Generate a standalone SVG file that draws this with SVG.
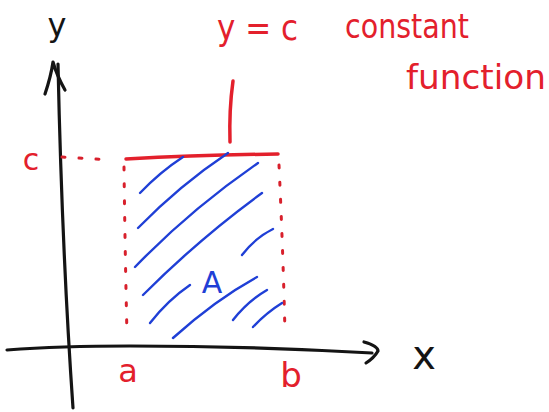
<svg xmlns="http://www.w3.org/2000/svg" width="549" height="412" viewBox="0 0 549 412">
<style>
.ink{fill:none;stroke:#141414;stroke-width:3.2;stroke-linecap:round;stroke-linejoin:round}
.red{fill:none;stroke:#e3202c;stroke-width:3.5;stroke-linecap:round}
.dot{fill:none;stroke:#d8202c;stroke-width:3;stroke-linecap:round;stroke-dasharray:3 14}
.hatch{fill:none;stroke:#1f3fd6;stroke-width:2.4;stroke-linecap:round}
.tr{fill:#e3202c;font-family:"DejaVu Sans","Liberation Sans",sans-serif}
.tk{fill:#141414;font-family:"DejaVu Sans","Liberation Sans",sans-serif}
.tb{fill:#1f3fd6;font-family:"DejaVu Sans","Liberation Sans",sans-serif}
</style>
<rect width="549" height="412" fill="#ffffff"/>
<g id="connectors">
  <g id="y-axis">
    <path class="ink" d="M73,408 Q62,250 58,64"/>
    <path class="ink" d="M45,94 Q51,76 53,62 Q57,76 65,90"/>
  </g>
  <g id="x-axis">
    <path class="ink" d="M7,350 Q60,346 130,346 Q250,346 372,353"/>
    <path class="ink" d="M364,342 Q378,346 378,351 Q374,358 366,363"/>
  </g>
  <g id="pointer">
    <path class="red" d="M233,81 Q229,110 230,142"/>
  </g>
</g>
<g id="function-line">
  <path class="red" d="M126,159 Q200,155 278,154"/>
  <path class="dot" d="M62,157 L112,160"/>
</g>
<g id="bounds">
  <path class="dot" d="M124,167 Q125,250 127,335"/>
  <path class="dot" d="M279,165 Q283,250 285,333"/>
</g>
<g id="area">
  <path class="hatch" d="M140,193 Q160,172 183,157"/>
  <path class="hatch" d="M138,228 Q180,185 228,153"/>
  <path class="hatch" d="M135,267 Q190,210 258,163"/>
  <path class="hatch" d="M143,295 Q200,238 262,193"/>
  <path class="hatch" d="M150,323 Q168,300 190,285"/>
  <path class="hatch" d="M173,338 Q215,300 257,277"/>
  <path class="hatch" d="M242,255 Q255,238 273,229"/>
  <path class="hatch" d="M233,320 Q248,301 267,290"/>
  <path class="hatch" d="M253,327 Q266,313 282,303"/>
  <text class="tb" x="212" y="293" font-size="30" text-anchor="middle">A</text>
</g>
<g id="labels">
  <text class="tk" x="57" y="36" font-size="32" text-anchor="middle">y</text>
  <text class="tk" x="424" y="369" font-size="40" text-anchor="middle">x</text>
  <text class="tr" x="31" y="170" font-size="30" text-anchor="middle">c</text>
  <text class="tr" x="128" y="382" font-size="32" text-anchor="middle">a</text>
  <text class="tr" x="291" y="387" font-size="34" text-anchor="middle">b</text>
</g>
<g id="annotation">
  <text class="tr" x="217" y="40" font-size="36" textLength="81" lengthAdjust="spacingAndGlyphs">y = c</text>
  <text class="tr" x="345" y="38" font-size="34" textLength="124" lengthAdjust="spacingAndGlyphs">constant</text>
  <text class="tr" x="406" y="89" font-size="34" textLength="140" lengthAdjust="spacingAndGlyphs">function</text>
</g>
</svg>
